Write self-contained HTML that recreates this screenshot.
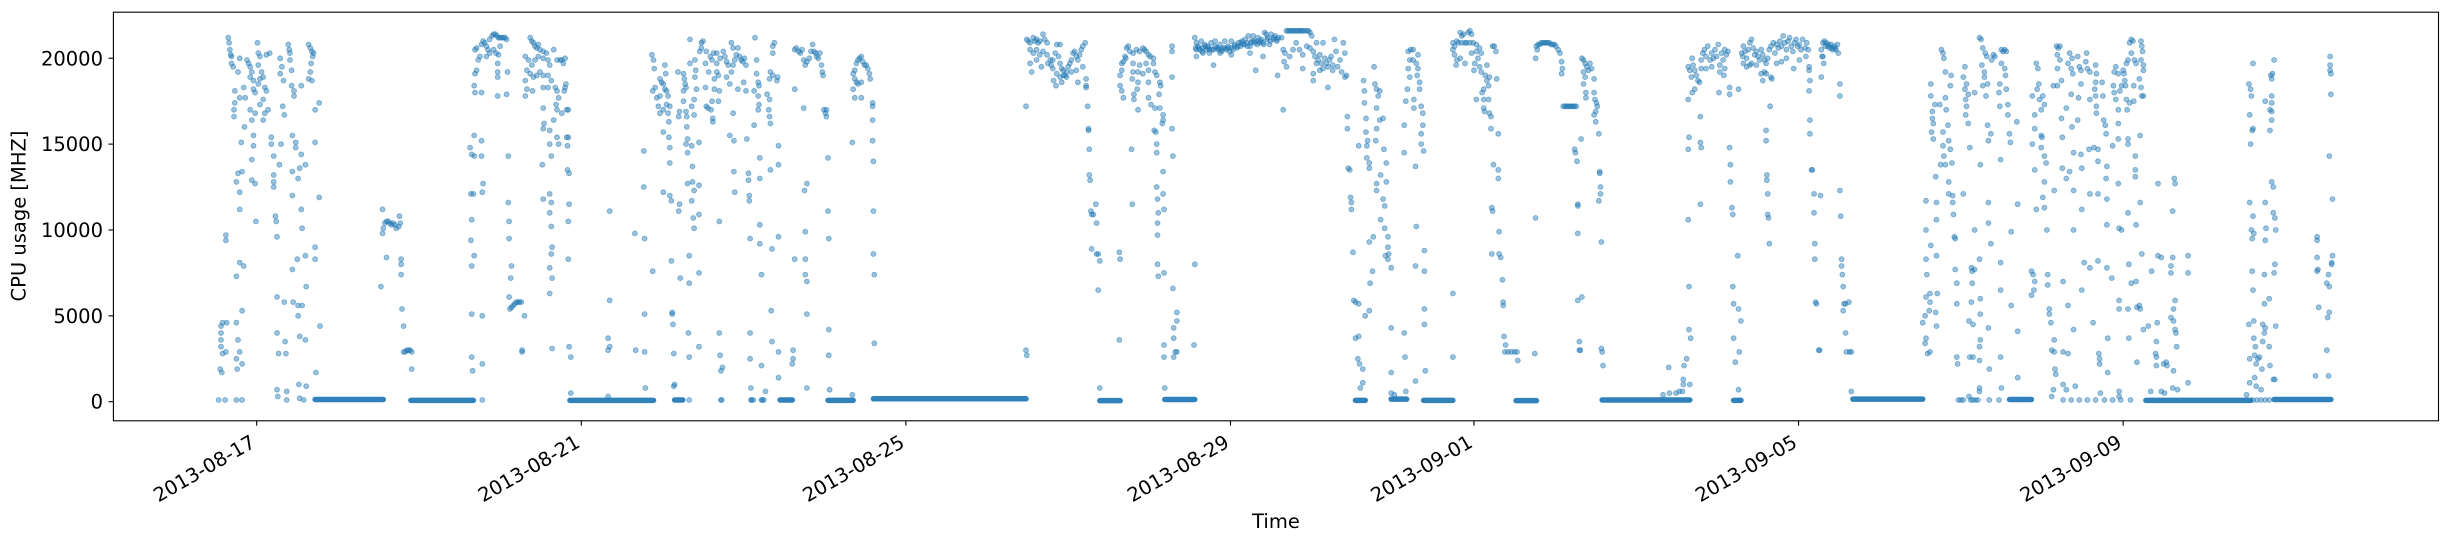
<!DOCTYPE html>
<html><head><meta charset="utf-8"><style>
html,body{margin:0;padding:0;background:#fff;}
svg{display:block;font-family:"DejaVu Sans","Liberation Sans",sans-serif;}
</style></head><body>
<svg id="chart" width="2450" height="544" viewBox="0 0 2450 544" xmlns="http://www.w3.org/2000/svg">
<rect x="0" y="0" width="2450" height="544" fill="#fff"/>
<g id="bands"></g>
<g id="points"></g>
<rect x="113.4" y="12.2" width="2325.1" height="408.6" fill="none" stroke="#000" stroke-width="1.1"/>
<g id="yticks"></g>
<g id="xticks"></g>
<text x="20" y="216" transform="rotate(-90 20 216)" text-anchor="middle" dominant-baseline="middle" font-size="19.5" fill="#000">CPU usage [MHZ]</text>
<text x="1276" y="528" text-anchor="middle" font-size="19.5" fill="#000">Time</text>
</svg>
<script>
// ===== data (time = days since 2013-08-17 00:00, values = MHz) =====
const yTickValues = [0, 5000, 10000, 15000, 20000];
const xTickDays = [0, 4, 8, 12, 15, 19, 23];
const xTickLabels = ["2013-08-17","2013-08-21","2013-08-25","2013-08-29","2013-09-01","2013-09-05","2013-09-09"];

const bandStart = [0.72,1.90,3.86,5.15,6.45,7.04,7.60,10.39,11.19,13.54,13.98,14.38,15.52,16.58,18.20,19.67,21.60,23.28,24.86];
const bandEnd   = [1.56,2.67,4.89,5.25,6.60,7.35,9.48,10.64,11.56,13.66,14.17,14.74,15.77,17.66,18.29,20.53,21.87,24.57,25.56];
const bandLevel = [130,80,80,100,100,80,170,60,130,80,150,80,60,100,80,150,130,80,130];

const t1 = [-0.47,-0.39,-0.45,-0.43,-0.44,-0.44,-0.44,-0.44,-0.42,-0.37,-0.42,-0.38,-0.38,-0.38,-0.35,-0.34,-0.33,-0.32,-0.31,-0.31,-0.29,-0.27,-0.27,-0.28,-0.28,-0.25,-0.23,-0.18,-0.21,-0.21,-0.21,-0.16,-0.25,-0.18,-0.25,-0.23,-0.21,-0.25,-0.18,-0.24,-0.25,-0.18,-0.23,-0.16,-0.14,-0.21,-0.15,-0.19,-0.21,-0.12,
-0.10,-0.08,-0.06,-0.08,-0.04,-0.04,-0.02,0.02,0.04,0.06,
0.08,0.02,0.01,0.02,0.04,0.12,0.16,0.10,0.12,0.08,
0.10,0.08,-0.02,-0.08,-0.06,-0.04,-0.04,-0.06,-0.06,-0.02,
-0.01,0.04,0.14,0.18,0.18,0.21,0.21,0.21,0.21,0.23,
0.24,0.25,0.25,0.25,0.27,0.25,0.26,0.35,0.36,0.34,
0.37,0.37,0.28,0.30,0.34,0.32,0.33,0.29,0.31,0.29,
0.39,0.40,0.41,0.41,0.43,0.43,0.46,0.46,0.44,0.48,
0.48,0.55,0.53,0.44,0.51,0.60,0.44,0.55,0.56,0.50,
0.44,0.60,0.61,0.45,0.51,0.56,0.51,0.53,0.60,0.52,
0.61,0.53,0.58,0.64,0.66,0.68,0.70,0.69,0.67,0.66,
0.68,0.64,0.55,0.72,0.77,0.72,0.77,0.72,0.72,0.78,
0.73];
const v1 = [100,100,1900,1700,3200,3600,4000,4400,4600,4600,2800,2900,9700,9400,21200,20900,20500,20200,20100,19700,19500,18100,17400,17000,16600,12800,13300,13400,12200,11200,8100,7900,7300,5300,4600,3600,2900,2500,2200,1900,100,100,19200,18300,17700,17700,16000,15100,20000,19900,
19700,19500,19200,18900,18700,18200,18000,18500,18800,19200,
18900,19600,20900,20300,20100,20200,20300,18300,18100,17600,
16800,16400,16800,17000,16400,15500,14900,14100,12900,12700,
10500,17300,17000,15400,15000,14300,13200,12800,12500,10800,
10500,9600,6100,4000,2800,700,300,3500,2800,5800,
600,100,13800,15000,16700,17200,18700,19100,19500,20000,
20800,20500,20300,19900,19300,18400,18100,17800,15500,15100,
14800,14400,13600,13400,13000,13800,12000,11200,10100,8300,
7700,8500,6700,5800,5600,5600,5000,3800,3600,1000,
900,200,100,20800,20600,20400,20300,20100,19700,19200,
18700,18800,18400,17000,17400,15100,11900,9000,8300,4400,
1700];

const t2 = [1.55,1.56,1.58,1.60,1.62,1.64,1.66,1.68,1.70,1.72,
1.75,1.76,1.77,1.55,1.60,1.53,1.78,1.78,1.78,1.79,
1.81,1.91,1.81,1.83,1.85,1.87,1.89,1.91,2.63,2.65,
2.68,2.77,2.68,2.77,2.64,2.67,2.78,2.79,2.65,2.64,
2.68,2.65,2.65,2.78,2.65,2.78,2.66,2.78,2.69,2.71,
2.73,2.75,2.77,2.79,2.81,2.83,2.85,2.87,2.90,2.92,
2.94,2.96,2.98,3.00,3.02,3.04,3.06,3.08,2.87,2.92,
2.95,2.98,3.00,2.83,2.71,2.69,2.97,2.97,2.97,3.09,
3.08,2.97,2.69,2.77,2.68,3.10,3.10,3.11,3.11,3.14,
3.13,3.11,3.12,3.14,3.16,3.18,3.20,3.22,3.24,3.26,
3.30,3.27,3.27,3.64,
3.37,3.39,3.41,3.43,3.45,3.47,3.49,3.53,3.57,3.66,
3.70,3.74,3.31,3.35,3.39,3.43,3.47,3.53,3.59,3.61,
3.33,3.37,3.41,3.45,3.49,3.53,3.59,3.63,3.31,3.33,
3.31,3.40,3.53,3.59,3.68,3.70,3.72,3.53,3.69,3.70,
3.66,3.54,3.53,3.61,3.70,3.72,3.61,3.63,3.52,3.53,
3.61,3.63,3.61,3.63,3.64,3.63,3.61,3.64,3.61];
const v2 = [9800,10100,10400,10500,10500,10400,10300,10400,10300,10100,
10200,10800,10400,11200,8400,6700,8300,8000,7400,5400,
4400,1900,2900,2900,3000,3000,3000,2900,14800,14400,
14300,14300,15500,15200,12100,12100,12200,12700,10600,9400,
8500,7900,5100,5000,2600,2200,1800,100,20500,20600,
19900,20100,20800,21000,20900,20700,20500,21100,21300,21400,
21400,21300,21200,21200,21200,21200,21200,21100,20300,20500,
20300,20200,20700,20100,19300,19100,19700,19200,18900,19200,
17900,17800,18000,18000,18400,14300,11600,10500,9500,7900,
7200,6100,5400,5500,5600,5700,5800,5800,5800,5800,
5000,3000,2900,3100,
21200,21000,20900,20700,20600,20800,20500,20400,20300,20500,
19900,19900,20100,19900,19600,19900,20100,20000,19900,19600,
19300,19100,18900,19000,19200,19000,19000,18700,18700,18200,
17800,18100,18300,18300,18300,18100,17700,17100,17300,17000,
16400,16200,15900,15800,15400,15000,15000,14300,13800,11800,
12100,11600,11000,10200,9000,8600,7800,7200,6300];

const t3 = [3.76,3.78,3.80,3.80,3.81,3.79,3.82,3.84,3.76,3.82,
3.84,3.83,3.83,3.85,3.85,3.84,3.84,3.85,3.87,3.87,
4.35,4.35,4.33,4.35,4.33,4.33,4.77,4.77,4.66,4.78,
4.67,4.78,4.78,4.79,4.88,
4.87,4.89,4.90,4.88,4.93,4.95,4.91,4.97,4.99,5.01,
5.03,5.05,4.97,5.01,5.05,5.07,5.09,4.97,5.03,5.04,
5.07,5.08,5.01,5.08,5.09,5.09,5.01,5.09,5.11,5.11,
5.12,5.12,5.13,5.14,5.15,
5.19,5.26,5.27,5.28,5.29,5.26,5.26,5.21,5.20,5.29,
5.30,5.39,5.36,5.39,5.42,5.34,5.40,5.40,5.41,5.34,
5.30,5.31,5.29,5.36,5.45,5.31,5.37,5.31,5.37,5.39,
5.45,5.36,5.21,5.20,5.45,5.38,5.39,5.33,5.45,5.22,
5.33,5.32,5.45,5.33,5.14,
5.33,5.73,6.09,6.12,6.22,6.25,5.72,6.10,6.23];
const v3 = [19900,19700,20000,18300,18500,18100,17000,17000,16800,15400,
15400,14900,13500,13300,11500,10500,8300,3200,2600,500,
11100,5900,3700,3200,3000,300,14600,12500,9800,9500,
3000,2900,5100,800,7600,
20200,19900,19400,18100,17700,17200,18300,18800,18600,18500,
18200,18100,16800,17000,17300,17800,17200,17800,19600,19100,
16800,16300,15700,15400,14800,13900,12200,12000,11700,8200,
5100,5200,4500,2800,1000,
19200,19100,18800,18500,18300,18100,17500,16900,16600,16900,
16600,16700,17200,17600,18200,19700,19900,18900,19300,21100,
16000,15300,15000,14900,15100,14500,13700,12700,12800,12300,
12600,11700,11500,11100,10900,10700,10100,8500,7500,7200,
6900,4000,3200,2600,900,
100,100,100,100,100,100,100,100,100];

const t4 = [5.46,5.48,5.50,5.48,5.54,5.53,5.59,5.61,5.63,5.67,
5.67,5.71,5.75,5.77,5.79,5.81,5.85,5.87,5.89,5.91,
5.95,5.97,5.99,6.01,5.93,6.03,6.14,6.16,5.85,5.87,
5.79,5.83,5.67,5.69,5.57,5.64,5.53,5.64,5.70,5.54,
5.56,5.60,5.61,5.69,5.62,5.62,6.16,6.18,6.19,6.00,
5.93,6.03,6.13,6.18,6.19,6.29,6.32,6.18,6.31,6.32,
6.33,5.87,5.83,5.88,6.04,6.13,6.43,6.20,6.33,6.20,
6.43,5.88,6.06,6.06,5.89,6.07,6.07,5.70,6.20,6.08,
6.43,6.20,6.35,6.22,6.34,6.08,5.70,6.35,6.43,5.71,
5.74,5.72,6.08,6.22,6.43,6.61,6.61,6.60,6.09,6.27,
6.42,6.36,6.36,6.38,6.33,6.36,6.32,6.41,
6.63,6.65,6.68,6.70,6.72,6.74,6.76,6.78,6.81,6.83,
6.85,6.87,6.89,6.90,6.92,6.94,6.96,6.97,6.98,6.63,
6.74,6.99,7.01,7.02,7.02,7.04,7.04,7.05,7.05,7.05,
7.06,6.75,6.78,6.76,6.63,6.76,6.76,6.78,6.78,6.78,
7.35,7.37,7.39,7.41,7.43,7.45,7.47,7.49,7.51,7.53,
7.55,7.56,7.37,7.39,7.41,7.45,7.35,7.37,7.45,7.34,
7.59,7.59,7.59,7.59,7.60,7.60,7.60,7.61,7.61,7.34];
const v4 = [20400,20900,21000,20600,20400,19700,20100,19900,20300,20300,
19700,20000,20400,20100,19800,19600,20900,20600,19900,20200,
20100,19900,19800,20000,20600,19600,21200,19900,19200,19600,
18900,18500,19200,19000,19200,18800,18300,18200,18100,17200,
17100,17000,17500,17500,16500,16300,19100,18600,18400,18600,
18200,18100,18100,17800,17300,17900,17600,17000,17000,16600,
16200,16800,15500,15200,15300,16100,14900,14200,13500,13000,
13800,13400,13300,12900,12200,12000,11700,10500,10300,9500,
9600,9200,8900,7400,5300,4000,4000,3500,2900,2700,
2000,1800,2500,2100,1400,3000,2500,2200,800,600,
18900,20700,20300,20900,19200,19000,18800,18700,
20500,20600,20400,20300,20500,19900,19600,19800,20000,20400,
20800,20400,20300,20100,20000,20300,19600,19200,19000,18200,
17100,17000,16800,16600,17000,14200,11100,9500,4200,2700,
700,12300,12700,9900,8300,8300,7400,7000,5100,800,
19100,19300,19700,19900,20000,20100,19800,19600,19600,19400,
19100,18800,18800,18600,18500,18600,18200,17700,17700,15100,
17400,17200,16400,15200,14000,11100,8600,7400,3400,400];

const t5 = [9.48,9.48,9.49,
9.49,9.51,9.53,9.57,9.59,9.61,9.63,9.65,9.69,9.71,9.74,
9.53,9.57,9.61,9.65,9.69,9.74,9.53,9.61,9.55,9.67,
9.75,9.78,9.79,9.81,9.84,9.86,9.90,9.88,9.90,9.92,
9.94,9.96,9.98,10.00,10.02,10.04,10.06,10.08,10.10,10.12,
10.14,10.16,10.18,10.21,9.81,9.86,9.90,9.94,9.98,10.04,
10.10,10.18,9.82,9.85,9.92,10.12,
10.22,10.22,10.22,10.24,10.25,10.25,10.26,10.26,10.27,10.28,
10.29,10.31,10.34,10.35,10.29,10.35,10.37,10.39,10.37,10.39,
10.63,10.63,10.64,10.79,10.78,
10.64,10.66,10.68,10.66,10.70,10.72,10.74,10.76,10.80,10.84,
10.88,10.92,10.94,10.96,10.99,11.01,11.05,10.71,10.80,10.88,
10.96,11.05,10.80,10.86,10.92,10.99,11.07,10.79,10.86,10.99,
11.09,11.13,11.14,10.64,10.66,10.68,10.81,10.81,10.85,10.86,
10.99,11.02,11.07,11.13,11.17,11.17,11.16,11.06,11.08,11.09,
11.09,11.12,11.17,11.09,11.17,11.10,11.18,11.11,11.10,11.10,
11.10,11.18,11.11,11.28,11.28,11.28,11.28,11.29,11.29,11.34,
11.34,11.30,11.30,11.18,11.18,11.30,11.32,11.34,11.19,11.56,
11.55];
const v5 = [17200,3000,2700,
21100,21000,20900,21200,21000,21100,20900,21000,21400,21100,20900,
20500,20300,20500,20200,20400,20200,19700,19900,19200,19500,
19700,19900,19600,19900,20300,20800,20800,20100,19700,19400,
19300,19000,19200,19500,19700,19900,20300,20400,20100,19900,
20200,20500,20700,20900,19400,19100,18900,19000,18900,19200,
19300,19500,18700,18400,18600,18600,
18800,18400,18300,17200,15900,15800,14700,13200,12900,11100,
10900,10900,11500,10400,8900,8600,8600,8200,6500,800,
3600,8700,8300,11500,14700,
19000,19700,19800,19300,20100,20600,20700,20400,20300,20500,
20400,20600,20500,20400,20200,20100,20000,20000,19700,19600,
19700,19700,19200,19200,19100,19300,19200,18800,18600,18600,
19000,18600,18400,18400,18100,17700,17900,17600,18200,17000,
17700,17300,17100,17100,16700,16400,16200,15800,15700,15000,
14500,17900,13400,12500,12100,11800,11200,11000,10400,9700,
8000,7500,7300,20700,20400,18900,15900,14300,6600,5200,
4700,4300,3700,3300,2600,2600,2900,2900,800,8000,
3300];

const t6 = [11.56,11.58,11.58,11.60,11.62,11.64,11.66,11.68,11.70,11.72,
11.74,11.76,11.79,11.81,11.83,11.85,11.87,11.89,11.91,11.93,
11.95,11.97,11.99,12.01,12.03,12.05,12.08,12.10,12.12,12.14,
12.16,12.18,12.20,12.22,12.24,12.26,12.28,12.30,12.32,12.34,
12.36,12.38,12.40,12.42,12.44,12.46,12.48,12.50,12.53,12.55,
12.57,12.59,11.58,11.66,11.74,11.87,12.01,12.24,12.40,11.79,
12.31,12.58,
11.57,11.61,11.65,11.69,11.73,11.77,11.81,11.85,11.89,11.93,11.97,12.01,12.05,12.09,12.13,12.17,12.21,12.25,12.29,12.33,12.37,12.41,12.45,12.49,12.53,12.57,
12.63,12.69,12.73,12.77,12.81,12.85,12.89,12.94,12.98,13.00,
12.65,12.67,12.66,12.69,12.73,12.77,12.81,12.85,12.89,12.89,
12.94,12.98,13.02,13.04,13.06,13.08,13.10,13.12,13.14,13.16,
13.18,13.20,13.22,13.24,13.26,13.28,13.30,13.32,13.35,13.37,
13.39,13.41,13.43,13.41,13.02,13.06,13.10,13.14,13.26,13.02,
13.20,12.65,
12.71,12.75,12.79,12.83,12.87,12.91,12.96];
const v6 = [21200,20900,20500,20700,20500,21000,20600,20800,20500,20700,
20500,20900,20500,21000,20600,20500,20800,20400,20600,21000,
20500,20700,20400,21000,20500,20700,20600,20900,20700,21000,
20800,21100,20900,21300,20700,21000,21300,20900,21000,21200,
20900,21100,20900,21500,21400,21200,20800,21400,21100,21300,
21100,21200,20100,20300,20300,20300,20200,20300,20100,19600,
19300,19000,
20600,20600,20400,20700,20600,20500,20700,20600,20500,20600,20600,20600,20800,20700,20900,20800,20700,20900,21000,20800,21000,20800,21100,21000,21200,21000,
21200,21600,21600,21600,21600,21600,21600,21600,21500,21300,
20500,20300,19800,19500,20100,20500,20900,20500,20200,19400,
20700,20600,20400,20100,20900,19900,20200,19700,20900,20000,
19700,19500,19900,20100,19600,21100,20400,19500,19900,19200,
20900,20300,19000,18900,19100,19700,19300,19400,19300,18700,
18300,17000,
21600,21600,21600,21600,21600,21600,21600];

const t7 = [13.44,13.44,13.45,13.47,13.48,13.49,13.49,13.51,13.52,13.54,
13.58,13.54,13.58,13.57,13.59,13.63,13.63,13.60,13.58,13.64,
13.65,13.65,13.67,13.67,13.69,13.68,13.68,13.71,13.71,13.77,
13.78,13.80,13.82,13.80,13.84,13.84,13.88,13.80,13.79,13.89,
13.92,13.85,13.80,13.92,13.80,13.88,13.90,13.85,13.90,13.94,
13.94,13.95,13.94,13.91,13.98,13.76,13.71,13.75,13.72,13.66,
13.71,13.98,14.14,14.15,13.98,14.28,14.40,14.39,14.39,14.39,
14.28,14.39,14.29,14.28,14.14,14.14,14.16,14.26,14.26,14.18,
14.21,14.19,14.21,14.19,14.22,14.25,14.25,14.29,14.31,14.30,
14.33,14.33,14.31,14.35,14.37,14.37,14.35,14.35,14.38,14.74,
14.74,14.16,13.98,14.02,
14.74,14.76,14.79,14.83,14.85,14.87,14.91,14.93,14.95,14.97,
14.99,15.03,15.07,15.09,14.74,14.76,14.81,14.85,14.89,14.95,
15.03,14.79,14.83,14.89,14.97,15.01,15.05,14.78,15.00,15.07,
15.09,15.16,15.14,15.16,15.18,15.12,15.10,15.12,15.03,15.19,
15.18,15.28,15.12,15.13,15.19,15.21,15.21,15.30,15.24,15.30,
15.30,15.22,15.23,15.31,15.22,15.31,15.33,15.35,15.36,15.36,
15.37,15.39,15.23,15.25,15.27,15.54,15.75,15.76,15.76,15.38,
15.42,15.46,15.50,15.53];
const v7 = [16600,15900,13600,13500,11900,11600,11200,8700,5900,5800,
5700,3700,3800,2500,2200,1900,1100,800,14900,18700,
18100,17400,16500,15700,15200,14900,14200,13900,13600,19500,
18500,18200,17800,17100,18100,16400,16500,15900,15200,14700,
13900,13200,12700,12800,12300,11800,11400,10600,10100,9600,
9000,8600,8300,8500,7800,9600,9300,7600,6900,5000,
5300,4300,4000,2600,1700,1200,1800,5400,4500,7600,
7900,8800,10200,13700,14500,16100,17500,17600,17100,18200,
18900,19400,19900,20400,20500,20500,19900,19700,19400,19000,
18600,18200,20200,17200,16800,16100,15600,15000,14600,6300,
2600,600,500,400,
20900,20700,21000,21500,21300,21400,20900,21500,21600,21400,
20900,20800,20600,20300,20500,20200,20900,20900,20900,20900,
20400,19900,20000,19700,20300,19700,20000,19600,19300,19500,
19200,19600,19000,18700,18400,18200,18000,17600,17600,18900,
17600,18800,17100,16900,16800,16600,15900,15600,13800,13500,
13000,11300,11100,9900,8600,8600,8400,7100,5800,5600,
3800,3300,20700,20700,20400,2400,2800,10700,20000,2900,
2900,2900,2900,2900];

const t8 = [15.77,15.81,15.85,15.89,15.93,15.97,16.01,16.04,16.06,15.78,
16.08,16.09,16.08,15.79,15.83,15.87,15.91,15.95,15.99,16.10,
16.14,16.18,16.22,16.26,16.12,16.16,16.20,16.24,16.24,16.25,
16.27,16.32,16.28,16.28,16.28,16.28,16.33,16.30,16.30,16.31,
16.33,16.35,16.37,16.39,16.41,16.43,16.45,16.35,16.37,16.48,
16.35,16.38,16.38,16.48,16.49,16.51,16.52,16.50,16.48,16.50,
16.54,16.55,16.55,16.56,16.56,16.54,16.57,16.57,16.58,16.59];
const v8 = [20700,20800,20900,20900,20900,20800,20700,20500,20300,20500,
19800,19400,19100,20800,20900,20900,20900,20800,20800,17200,
17200,17200,17200,17200,17200,17200,17200,17200,14700,14500,
14000,15300,11500,11400,9800,5900,6100,3500,3000,3000,
20000,19900,19700,19500,19300,19700,19400,19200,18900,18800,
18500,18000,17700,18000,17600,17400,17200,16900,16700,16300,
15600,13400,13300,12500,12100,11700,9300,3100,2900,2100];

const t9 = [17.33,17.41,17.49,17.53,17.57,17.59,17.58,17.58,17.62,17.66,
17.40,17.64,17.64,17.66,17.68,17.69,17.70,17.72,17.74,17.76,
17.78,17.80,17.82,17.84,17.86,17.88,17.91,17.93,17.95,17.97,
17.99,18.01,18.03,18.05,18.07,18.09,18.11,18.13,17.80,17.86,
17.93,18.03,18.09,17.72,17.69,18.02,18.08,18.15,18.15,18.26,
17.79,17.65,17.64,17.79,17.80,17.79,17.64,17.65,17.65,17.67,
18.15,18.16,18.16,18.18,18.19,18.25,18.19,18.20,18.26,18.29,
18.20,18.27,18.22,18.26,
18.30,18.32,18.34,18.36,18.38,18.40,18.42,18.44,18.46,18.48,
18.50,18.52,18.54,18.56,18.58,18.60,18.62,18.64,18.66,18.69,
18.71,18.73,18.75,18.77,18.79,18.81,18.83,18.85,18.87,18.89,
18.91,18.93,18.95,18.97,18.99,19.01,19.03,19.05,19.08,19.10,
19.12,18.32,18.36,18.42,18.48,18.40,18.54,18.56,18.58,18.60,
18.66,18.67,18.73,18.79,18.85,18.94,19.01,19.09,18.31,18.65,
18.60,18.60,18.61,18.61,18.62,18.62,18.63,18.64,19.13,19.13,
19.14,19.13,19.14,19.14,19.16,19.17,19.19,19.19,19.20,19.20,
19.21,19.22,19.27,19.25,19.26,19.28,
19.28,19.30,19.32,19.34,19.36,19.38,19.40,19.42,19.44,19.46,
19.48,19.49,19.30,19.31,19.29,19.51,19.51,19.51,19.52,19.53,
19.53,19.54,19.55,19.56,19.55,19.58,19.62,19.58,19.59,19.63,
19.65,19.65,19.33,19.37,19.41,19.45];
const v9 = [400,500,500,600,600,2100,1300,1000,2500,1000,
2000,17600,19500,19300,18900,20000,19600,19300,19000,18700,
18600,19900,20300,20500,20100,20700,19900,20300,20000,20500,
20100,20800,19600,20300,19900,20500,20200,20400,19400,19400,
19500,19200,19400,18200,18000,18000,19000,18300,17900,18200,
16600,15400,14700,15100,14800,11500,10600,6700,4200,3700,
14800,13800,12800,11300,10900,8500,6700,5700,5400,4700,
3700,2900,2300,700,
20300,20700,20400,20000,20500,20900,21100,20600,20200,20400,
20100,19900,20500,20200,19900,19700,20000,20500,20700,20900,
20300,20800,20600,21000,20700,21300,20900,20500,21000,21200,
20700,20400,20900,21100,20700,20800,20500,21100,20600,20900,
20500,19700,19500,19700,19600,19600,19100,18700,19200,19100,
18900,18800,19700,19800,20000,19400,19900,20100,20100,17200,
15800,15200,13200,12900,12100,10900,10700,9200,19500,19300,
18700,18100,16400,15600,13500,13500,12100,11000,9200,8300,
5800,5700,12000,3000,3000,18900,
20500,20900,21000,20900,20700,20600,20800,20500,20700,20500,
20800,20300,20100,19700,20100,18500,17800,12300,10800,8300,
7900,7400,6700,5700,5300,5700,5800,4000,2900,2900,
2900,600,20700,20800,20600,20600];

const t10 = [20.57,20.57,20.56,20.53,20.56,20.57,20.59,20.62,20.57,20.61,
20.62,20.58,20.57,20.63,20.62,20.69,20.70,20.71,20.70,20.70,
20.70,20.69,20.66,20.64,20.66,20.65,20.65,20.68,20.63,20.63,
20.74,20.78,20.78,20.79,20.81,20.75,20.85,20.85,20.90,20.90,
20.91,20.92,20.93,20.93,20.95,20.95,20.95,20.96,20.76,20.78,
20.79,20.81,20.81,20.82,20.84,20.85,20.87,20.89,20.88,20.87,
21.05,21.03,21.05,21.07,21.06,21.07,21.06,21.09,21.11,21.03,
21.09,21.17,21.24,21.29,21.27,21.23,21.25,21.27,21.30,21.32,
21.38,21.40,21.42,21.26,21.29,21.33,21.31,21.47,21.48,21.48,
21.33,21.37,21.34,21.34,21.34,21.37,21.17,21.23,21.17,21.13,
21.14,21.14,21.24,21.24,21.13,21.10,21.15,21.34,21.24,21.23,
21.11,21.15,21.23,21.35,21.23,21.23,21.10,
20.97,21.00,21.03,21.12,21.15,21.18,21.21,21.35,21.47];
const v10 = [10000,11700,5000,4600,3400,3700,2800,2900,6100,5300,
6300,7400,8300,9100,5800,5200,4400,6300,8500,10600,
11600,13100,15300,15700,16200,16500,16900,17300,17800,18500,
17300,15700,14900,14300,13800,13800,12800,12100,12000,11600,
10900,9600,9500,7700,6900,5700,2600,2200,20500,20300,
20000,19200,17700,17000,16100,15200,14700,13900,19000,18400,
19500,18900,18200,18500,17600,17200,16700,16200,14800,12100,
17900,18000,13800,18900,18400,21200,21100,20600,20300,20100,
19900,20200,20100,19600,19200,18500,17800,18000,18500,17200,
16100,15600,15200,11600,10400,9200,10000,8300,7700,7800,
6900,7600,6000,5100,5800,4700,4500,4300,3600,3200,
2600,2600,2400,1900,800,600,300,
100,100,100,100,100,100,100,100,100];

const t11 = [21.50,21.52,21.54,21.56,21.50,21.54,21.55,21.56,21.58,21.58,
21.60,21.61,21.49,21.69,21.70,21.62,21.49,21.49,21.62,21.70,
21.49,21.70,21.50,
21.87,21.89,21.91,21.87,21.90,22.07,22.07,22.09,22.09,22.11,
22.15,22.12,22.15,22.16,22.17,22.14,22.12,21.93,21.95,21.94,
21.96,21.97,21.99,22.01,22.03,21.91,21.88,21.91,21.99,22.00,
21.99,22.03,22.05,21.91,22.03,21.88,22.01,21.93,22.03,22.06,
22.18,22.20,22.22,22.19,22.22,22.19,22.24,22.14,22.19,22.30,
22.24,22.25,22.25,22.15,22.34,22.37,22.36,22.38,22.32,22.44,
22.46,22.48,22.55,22.54,22.56,22.59,22.66,22.67,22.66,22.65,
22.74,22.75,22.36,22.45,22.48,22.59,22.66,22.67,22.67,22.76,
22.78,22.79,22.44,22.37,22.58,22.64,22.69,22.48,22.39,22.69,
22.80,22.49,22.34,22.30,22.79,22.39,22.59,22.69,22.80,22.49,
22.80,22.39,22.52,22.59,22.69,22.80,22.86,22.49,22.32,22.26,
22.63,22.39,22.26,22.32,22.70,22.71,22.71,22.81,22.81,22.26,
22.30,22.41,
22.26,22.36,22.46,22.56,22.66,22.77,22.87,22.97,23.09];
const v11 = [20500,20400,20500,20400,19700,19400,19000,18200,17300,16700,
15600,15100,14100,16300,11500,9900,8100,6500,5600,4100,
2600,1400,800,
7600,7400,7000,6200,6500,7400,6800,5100,5400,4600,
3600,3000,2900,1900,1600,700,300,19700,19400,18200,
18500,17600,17000,17800,17300,16700,17800,15900,15500,15400,
14800,14300,13900,13500,12800,15000,11900,11200,11300,10000,
20700,20600,20700,20200,19900,19400,18700,18400,18400,17100,
16500,15400,13600,12300,20300,20000,19400,19100,19700,20100,
19500,19300,20300,19800,19400,19200,19600,19100,18600,18200,
18600,17800,17900,17700,18500,17600,17800,17200,16800,16400,
16100,15600,16400,16000,14700,14800,14700,14400,14500,14000,
13700,13600,13400,13000,13000,12300,12100,12100,11800,11200,
10300,10000,8100,7800,8200,7800,7200,6500,5600,7000,
4600,4200,2900,2800,2800,2500,2200,3700,1700,1000,
700,900,
100,100,100,100,100,100,100,100,100];

const t12 = [22.88,22.89,22.91,22.94,22.89,22.91,22.94,22.96,22.98,23.00,
23.01,23.02,23.04,23.06,23.08,23.10,23.12,23.10,23.14,23.16,
23.03,23.04,23.05,23.08,23.13,23.13,23.20,23.22,23.23,23.25,
23.22,23.23,23.24,23.22,23.25,23.25,22.94,22.94,23.06,23.06,
22.87,23.15,23.15,23.15,22.94,23.21,23.21,23.06,22.95,22.98,
23.16,23.07,23.10,23.16,22.95,22.95,23.06,23.17,23.20,23.21,
23.07,23.17,22.95,22.95,22.72,
23.43,23.63,23.64,23.61,23.23,23.43,23.47,23.61,23.80,23.35,
23.59,23.59,23.80,23.64,23.62,23.59,23.62,23.64,23.65,23.25,
23.31,23.42,23.41,23.66,23.40,23.41,23.50,23.53,23.41,23.54,
23.62,23.80,23.61,23.67,23.34,23.47,23.51];
const v12 = [18400,19200,19500,19100,18000,17600,17000,18100,18400,19300,
19100,18700,19700,19900,20900,21100,21000,20300,19900,19700,
18400,17600,17000,17400,18400,17500,18800,18300,17800,17800,
21000,20700,20400,19900,19600,19300,16200,15300,15300,15000,
14900,14300,13500,13100,12700,15500,11600,11000,10100,10000,
10300,8000,6900,7000,5900,5400,5400,5500,5600,5400,
3700,2300,600,300,500,
12700,13000,12700,11100,8600,8500,8400,8400,8500,7600,
7900,7500,7500,5900,5400,4900,4700,4200,4000,4200,
4400,4600,3500,3200,2800,2600,2200,2300,2100,2100,
1800,1100,800,700,600,600,500];

const t13 = [24.60,24.55,24.57,24.58,24.56,24.60,24.59,24.57,24.56,24.60,
24.58,24.61,24.59,24.59,24.60,24.55,24.61,24.61,24.63,24.56,
24.62,24.66,24.68,24.64,24.62,24.56,24.64,24.70,24.86,24.84,
24.82,24.83,24.83,24.75,24.83,24.81,24.83,24.83,24.81,24.83,
24.85,24.75,24.85,24.87,24.76,24.88,24.75,24.87,24.86,24.74,
24.74,24.80,24.72,24.75,24.88,24.74,24.72,24.80,24.71,24.81,
24.85,24.87,24.52,
25.55,25.55,25.55,25.56,25.56,25.54,25.58,25.39,25.39,25.39,
25.40,25.39,25.58,25.57,25.57,25.53,25.51,25.54,25.41,25.54,
25.52,25.51,25.37,25.53,
24.60,24.65,24.70,24.75,24.80];
const v13 = [19700,18500,18200,17800,16700,15900,15800,15000,11600,10800,
10000,9800,9500,7600,6500,4500,4700,3700,3200,2500,
2700,2500,2600,2200,1400,1100,900,700,19900,19100,
19000,18800,17800,17500,17400,17000,16900,16400,15800,12800,
12500,11600,11000,10700,10100,10000,9400,8000,7500,7400,
5700,6000,4500,4300,4400,4000,3500,3200,1900,2100,
1300,1300,400,
20100,19600,19300,19100,17900,14300,11800,9600,9400,8400,
7700,7600,8500,8100,8000,7400,6900,6700,5500,5200,
4900,3000,1500,1500,
100,100,100,100,100];

// ===== axes =====
const X0 = 256.7, PX_PER_DAY = 81.15;
const Y0 = 401.7, PX_PER_MHZ = 0.017172;
function xScale(d){ return X0 + d * PX_PER_DAY; }
function yScale(v){ return Y0 - v * PX_PER_MHZ; }
const NS = "http://www.w3.org/2000/svg";

const bandsG = document.getElementById('bands');
for (let i = 0; i < bandStart.length; i++) {
  const ln = document.createElementNS(NS, 'line');
  ln.setAttribute('x1', xScale(bandStart[i]));
  ln.setAttribute('x2', xScale(bandEnd[i]));
  ln.setAttribute('y1', yScale(bandLevel[i]));
  ln.setAttribute('y2', yScale(bandLevel[i]));
  ln.setAttribute('stroke', '#1f77b4');
  ln.setAttribute('stroke-width', '5.5');
  ln.setAttribute('stroke-linecap', 'round');
  ln.setAttribute('stroke-opacity', '0.92');
  
  
  bandsG.appendChild(ln);
}

const seriesTimes = [t1,t2,t3,t4,t5,t6,t7,t8,t9,t10,t11,t12,t13];
const seriesVals  = [v1,v2,v3,v4,v5,v6,v7,v8,v9,v10,v11,v12,v13];
const ptsG = document.getElementById('points');
for (let s = 0; s < seriesTimes.length; s++) {
  const ts = seriesTimes[s], vs = seriesVals[s];
  const n = Math.min(ts.length, vs.length);
  for (let i = 0; i < n; i++) {
    const c = document.createElementNS(NS, 'circle');
    c.setAttribute('cx', xScale(ts[i]).toFixed(1));
    c.setAttribute('cy', yScale(vs[i]).toFixed(1));
    c.setAttribute('r', '2.5');
    c.setAttribute('fill', '#1f77b4');
    c.setAttribute('fill-opacity', '0.45');
    c.setAttribute('stroke', '#1f77b4');
    c.setAttribute('stroke-opacity', '0.5');
    c.setAttribute('stroke-width', '0.8');
    
    
    ptsG.appendChild(c);
  }
}

const yG = document.getElementById('yticks');
yTickValues.forEach(function(v){
  const y = yScale(v);
  const tk = document.createElementNS(NS, 'line');
  tk.setAttribute('x1', 108.5); tk.setAttribute('x2', 113.4);
  tk.setAttribute('y1', y); tk.setAttribute('y2', y);
  tk.setAttribute('stroke', '#000'); tk.setAttribute('stroke-width', '1.1');
  
  
  yG.appendChild(tk);
  const tx = document.createElementNS(NS, 'text');
  tx.setAttribute('x', 103); tx.setAttribute('y', y + 7);
  tx.setAttribute('text-anchor', 'end'); tx.setAttribute('font-size', '19.5');
  tx.textContent = String(v);
  
  
  yG.appendChild(tx);
});

const xG = document.getElementById('xticks');
xTickDays.forEach(function(d, i){
  const x = xScale(d);
  const tk = document.createElementNS(NS, 'line');
  tk.setAttribute('x1', x); tk.setAttribute('x2', x);
  tk.setAttribute('y1', 420.8); tk.setAttribute('y2', 425.7);
  tk.setAttribute('stroke', '#000'); tk.setAttribute('stroke-width', '1.1');
  
  
  xG.appendChild(tk);
  const tx = document.createElementNS(NS, 'text');
  const py = 446;
  tx.setAttribute('x', x); tx.setAttribute('y', py);
  tx.setAttribute('transform', 'rotate(-30 ' + x + ' ' + py + ')');
  tx.setAttribute('text-anchor', 'end'); tx.setAttribute('font-size', '19.5');
  tx.textContent = xTickLabels[i];
  
  
  xG.appendChild(tx);
});
</script>
</body></html>
